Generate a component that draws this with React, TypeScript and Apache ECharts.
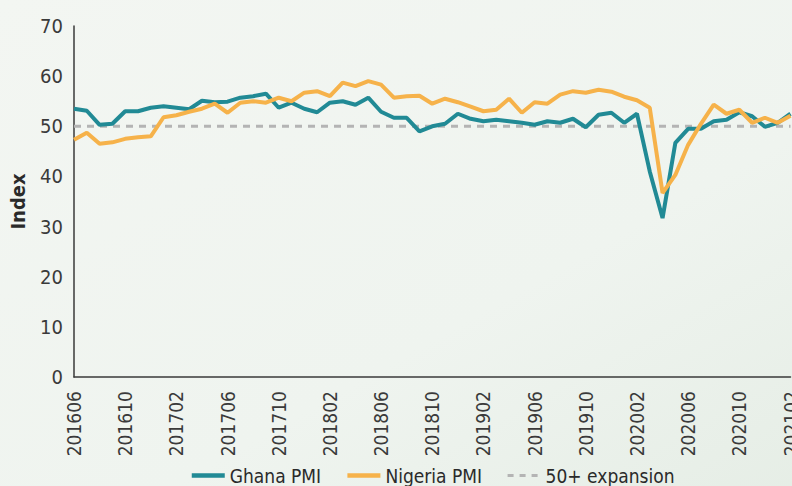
import React, { useEffect, useRef } from "react";
import * as echarts from "echarts";

const START_YEAR = 2016;
const START_MONTH = 6;
const MONTH_COUNT = 57; // 201606 .. 202102

const ghanaPMI = [
  53.5, 53.1, 50.3, 50.5, 53.0, 53.0, 53.7, 54.0, 53.7, 53.4,
  55.1, 54.8, 54.9, 55.7, 56.0, 56.5, 53.7, 54.7, 53.5, 52.8,
  54.7, 55.0, 54.3, 55.7, 52.9, 51.7, 51.7, 49.0, 50.0, 50.5,
  52.5, 51.5, 51.0, 51.3, 51.0, 50.7, 50.3, 51.0, 50.7, 51.5,
  49.8, 52.3, 52.7, 50.7, 52.5, 41.0, 31.7, 46.7, 49.5, 49.5,
  51.0, 51.3, 52.8, 52.0, 49.9, 50.7, 52.5,
];

const nigeriaPMI = [
  47.3, 48.7, 46.5, 46.8, 47.5, 47.8, 48.0, 51.8, 52.2, 52.9,
  53.5, 54.5, 52.7, 54.7, 55.0, 54.7, 55.7, 55.0, 56.7, 57.0,
  56.0, 58.7, 58.0, 59.0, 58.3, 55.7, 56.0, 56.1, 54.5, 55.5,
  54.8, 53.9, 53.0, 53.3, 55.5, 52.7, 54.8, 54.5, 56.3, 57.0,
  56.7, 57.3, 56.9, 55.9, 55.2, 53.7, 36.7, 40.3, 46.3, 50.5,
  54.3, 52.5, 53.3, 50.7, 51.7, 50.7, 52.1,
];

const EXPANSION_THRESHOLD = 50;
const yTicks = { min: 0, max: 70, interval: 10 };
const seriesNames = ["Ghana PMI", "Nigeria PMI", "50+ expansion"];

const months: string[] = [];
for (let i = 0; i < MONTH_COUNT; i++) {
  const m0 = START_MONTH - 1 + i;
  const y = START_YEAR + Math.floor(m0 / 12);
  const m = (m0 % 12) + 1;
  months.push(`${y}${m < 10 ? "0" + m : m}`);
}

const FONT = "'DejaVu Sans Condensed', 'Liberation Sans Narrow', sans-serif";
const TEXT_COLOR = "#3a3a3a";
const GHANA_COLOR = "#218a95";
const NIGERIA_COLOR = "#f6b24a";
const THRESHOLD_COLOR = "#b4b4b4";

export default function App() {
  const ref = useRef<HTMLDivElement>(null);

  useEffect(() => {
    if (!ref.current) return;
    const chart = echarts.init(ref.current, undefined, { renderer: "svg" });
    const thresholdLine = months.map(() => EXPANSION_THRESHOLD);
    chart.setOption({
      animation: false,
      backgroundColor: {
        type: "linear",
        x: 0,
        y: 0,
        x2: 1,
        y2: 1,
        colorStops: [
          { offset: 0, color: "#f3f6f2" },
          { offset: 0.6, color: "#eff4ef" },
          { offset: 1, color: "#e5ede5" },
        ],
      },
      textStyle: { fontFamily: FONT },
      grid: { left: 74, right: 73.5, top: 26, bottom: 109 },
      legend: {
        top: 461,
        left: "center",
        itemGap: 24,
        itemWidth: 33,
        itemHeight: 12,
        itemStyle: { opacity: 0 },
        textStyle: { fontFamily: FONT, fontSize: 19, color: "#2a2a2a" },
        data: [
          { name: seriesNames[0], lineStyle: { width: 4.5, color: GHANA_COLOR } },
          { name: seriesNames[1], lineStyle: { width: 4.5, color: NIGERIA_COLOR } },
          { name: seriesNames[2], lineStyle: { width: 3, color: THRESHOLD_COLOR, type: [6, 6] } },
        ],
      },
      xAxis: {
        type: "category",
        data: months,
        boundaryGap: false,
        axisLine: { show: true, lineStyle: { color: "#3a3a3a", width: 1.5 } },
        axisTick: { show: false },
        splitLine: { show: false },
        axisLabel: {
          interval: 3,
          rotate: 90,
          margin: 14,
          fontFamily: FONT,
          fontSize: 19,
          color: TEXT_COLOR,
        },
      },
      yAxis: {
        type: "value",
        min: yTicks.min,
        max: yTicks.max,
        interval: yTicks.interval,
        name: "Index",
        nameLocation: "middle",
        nameGap: 46,
        nameTextStyle: { fontFamily: FONT, fontSize: 20, fontWeight: "bold", color: "#2a2a2a" },
        axisLine: { show: true, lineStyle: { color: "#3a3a3a", width: 1.5 } },
        axisTick: { show: false },
        splitLine: { show: false },
        axisLabel: { margin: 11, fontFamily: FONT, fontSize: 20, color: TEXT_COLOR },
      },
      series: [
        {
          name: seriesNames[0],
          type: "line",
          data: ghanaPMI,
          symbol: "none",
          z: 3,
          lineStyle: { color: GHANA_COLOR, width: 4 },
          itemStyle: { color: GHANA_COLOR },
        },
        {
          name: seriesNames[1],
          type: "line",
          data: nigeriaPMI,
          symbol: "none",
          z: 4,
          lineStyle: { color: NIGERIA_COLOR, width: 4 },
          itemStyle: { color: NIGERIA_COLOR },
        },
        {
          name: seriesNames[2],
          type: "line",
          data: thresholdLine,
          symbol: "none",
          z: 2,
          lineStyle: { color: THRESHOLD_COLOR, width: 3, type: [7, 6] },
          itemStyle: { color: THRESHOLD_COLOR },
        },
      ],
    });
    return () => chart.dispose();
  }, []);

  return (
    <div
      style={{
        position: "fixed",
        left: 0,
        top: 0,
        width: 792,
        height: 486,
        overflow: "hidden",
      }}
    >
      <div ref={ref} style={{ width: 864, height: 486 }} />
    </div>
  );
}
